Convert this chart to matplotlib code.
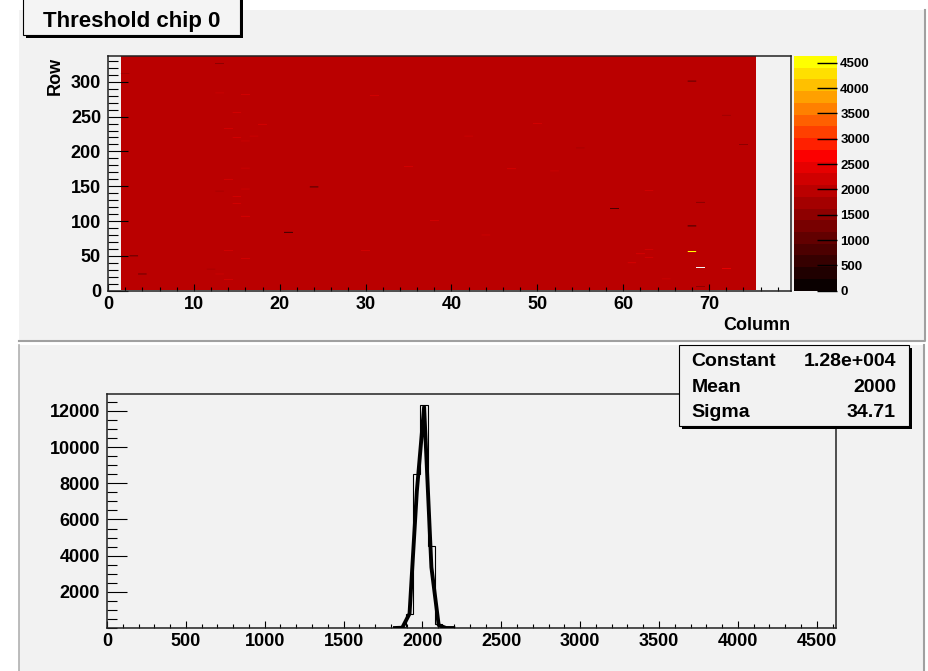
import numpy as np
import matplotlib
matplotlib.use("Agg")
import matplotlib.pyplot as plt
from matplotlib.colors import ListedColormap, BoundaryNorm
from matplotlib.patches import Rectangle
from matplotlib.ticker import MultipleLocator, FixedLocator

plt.rcParams['font.family'] = ['Liberation Sans', 'DejaVu Sans']
plt.rcParams['font.weight'] = 'bold'

# ---------------- data ----------------
title = "Threshold chip 0"
n_rows = 336
first_col, last_col = 2, 75          # columns read out on this chip
typical_threshold = 2000             # threshold of the bulk of the pixels
z_max = 4632                         # top of the colour scale
n_colour_levels = 20

# pixels whose threshold stands out from the bulk: column, row, threshold
odd_col = [59, 68, 68, 3, 4, 21, 24,
           69, 72, 74, 69, 2, 13, 13, 12,
           63, 62, 63, 63, 61, 65, 72,
           13, 16, 15, 14, 18, 15, 17, 16, 16, 14, 16, 15, 15, 16, 14, 16, 13, 14,
           31, 35, 47, 52, 38, 44, 55, 50, 30, 42,
           68, 69]
odd_row = [118, 93, 301, 50, 24, 84, 149,
           127, 252, 210, 6, 312, 326, 143, 31,
           144, 53, 59, 48, 40, 17, 32,
           284, 282, 256, 233, 239, 220, 222, 215, 176, 160, 146, 135, 125, 107, 58, 46, 24, 16,
           280, 178, 175, 172, 101, 80, 205, 240, 58, 222,
           56, 33]
odd_thr = [800, 100, 500, 600, 700, 700, 400,
           1600, 1700, 1500, 1600, 1700, 1600, 1700, 1700,
           2300, 2300, 2250, 2250, 2300, 2300, 2400,
           2300, 2300, 2250, 2300, 2300, 2250, 2300, 2300, 2300, 2300, 2300, 2250, 2250, 2300, 2300, 2300, 2300, 2300,
           2300, 2300, 2250, 2250, 2300, 2300, 1700, 2300, 2300, 2300,
           4620, 0]

# threshold distribution
hist_range = (0, 4622)
hist_nbins = 100
hist_first_bin = 39
hist_counts = [2, 40, 750, 8520, 12320, 4550, 200, 15, 2]

# gaussian fit
fit_constant = 1.28e4
fit_mean = 2000
fit_sigma = 34.71
fit_range = (1800, 2200)
fit_labels = ["Constant", "Mean", "Sigma"]
fit_texts = ["1.28e+004", "2000", "34.71"]

# ---------------- figure ----------------
W, H = 929, 671
PAD_GREY = '#f2f2f2'
fig = plt.figure(figsize=(W / 100, H / 100), dpi=100)
fig.patch.set_facecolor('white')


def rect_px(x0, y0, x1, y1):
    return [x0 / W, 1 - y1 / H, (x1 - x0) / W, (y1 - y0) / H]


# pads
bg = fig.add_axes([0, 0, 1, 1], zorder=-10)
bg.set_xlim(0, W)
bg.set_ylim(H, 0)
bg.axis('off')
bg.add_patch(Rectangle((19, 10), 906, 331, fc=PAD_GREY, ec='none'))
bg.add_patch(Rectangle((19, 345), 906, 330, fc=PAD_GREY, ec='none'))
bg.plot([19, 925, 925], [340.5, 340.5, 10], color='#a0a0a0', lw=1.5)
bg.plot([19.5, 19.5], [345, 671], color='#b0b0b0', lw=1.2)
bg.plot([924.5, 924.5], [345, 671], color='#a0a0a0', lw=1.5)

# colour palette: dark body radiator, black -> red -> yellow
levels = np.linspace(0, z_max, n_colour_levels + 1)
cols = []
for i in range(n_colour_levels):
    r = min(255, 10 + 22 * i)
    g = max(0, min(255, 32 * (i - 11)))
    cols.append((r / 255, g / 255, 0.0))
cmap = ListedColormap(cols)
cmap.set_bad((0, 0, 0, 0))
norm = BoundaryNorm(levels, n_colour_levels)

# threshold map
n_cols = last_col - first_col + 1
thr_map = np.full((n_rows, n_cols), float(typical_threshold))
is_odd = np.zeros((n_rows, n_cols), dtype=bool)
for c, r, t in zip(odd_col, odd_row, odd_thr):
    thr_map[r - 1, c - first_col] = t
    is_odd[r - 1, c - first_col] = True
thr_map = np.ma.masked_equal(thr_map, 0.0)
col_edges = np.arange(first_col - 0.5, last_col + 1.0, 1.0)
row_edges = np.arange(0.5, n_rows + 1.0, 1.0)

ax_map = fig.add_axes(rect_px(108, 56, 790.7, 290.7))
ax_map.set_facecolor(PAD_GREY)
# whole map drawn without edge smoothing (no seams between cells) ...
mesh = ax_map.pcolormesh(col_edges, row_edges, thr_map, cmap=cmap, norm=norm,
                         antialiased=False, linewidth=0, edgecolors='none')
# ... and the single outlying pixels again as smoothed polygons so that
# every sub-pixel-high row still shows up
odd_layer = np.ma.masked_where(~is_odd, thr_map)
ax_map.pcolor(col_edges, row_edges, odd_layer, cmap=cmap, norm=norm,
              antialiased=True, linewidth=0, edgecolors='none')
ax_map.set_xlim(0, 79.5)
ax_map.set_ylim(0, 337)
ax_map.xaxis.set_major_locator(MultipleLocator(10))
ax_map.xaxis.set_minor_locator(MultipleLocator(2))
ax_map.yaxis.set_major_locator(MultipleLocator(50))
ax_map.yaxis.set_minor_locator(MultipleLocator(10))


def style_axes(ax):
    for s in ax.spines.values():
        s.set_color('#222222')
        s.set_linewidth(1.1)
    ax.tick_params(axis='both', which='both', direction='in', top=False, right=False,
                   width=0.8, color='black', labelsize=13)
    ax.tick_params(axis='x', which='major', length=5.4, pad=3.5)
    ax.tick_params(axis='x', which='minor', length=2.8)
    ax.tick_params(axis='y', which='major', length=14.4, pad=5)
    ax.tick_params(axis='y', which='minor', length=7.2)
    for lab in ax.get_xticklabels() + ax.get_yticklabels():
        lab.set_fontweight('bold')


style_axes(ax_map)

# colour scale
cax = fig.add_axes(rect_px(794.5, 56, 836.7, 290.7))
cb = fig.colorbar(mesh, cax=cax, ticks=np.arange(0, 4501, 500))
cb.outline.set_visible(False)
cb.minorticks_off()
cax.tick_params(direction='in', length=14.4, width=1.0, color='black',
                labelsize=9.5, pad=2.5)
for lab in cax.get_yticklabels():
    lab.set_fontweight('bold')

# threshold distribution
edges = np.linspace(hist_range[0], hist_range[1], hist_nbins + 1)
counts = np.zeros(hist_nbins)
counts[hist_first_bin:hist_first_bin + len(hist_counts)] = hist_counts
centres = 0.5 * (edges[:-1] + edges[1:])

ax_h = fig.add_axes(rect_px(107, 394, 836, 628))
ax_h.set_facecolor(PAD_GREY)
ax_h.stairs(counts, edges, color='black', lw=0.8, zorder=2)
in_fit = (centres >= fit_range[0]) & (centres <= fit_range[1])
xf = centres[in_fit]
yf = fit_constant * np.exp(-0.5 * ((xf - fit_mean) / fit_sigma) ** 2)
ax_h.plot(xf, yf, color='black', lw=2.8, solid_joinstyle='round', zorder=3)
ax_h.set_xlim(hist_range)
ax_h.set_ylim(0, 1.05 * counts.max())
ax_h.xaxis.set_major_locator(MultipleLocator(500))
ax_h.xaxis.set_minor_locator(MultipleLocator(100))
ax_h.yaxis.set_major_locator(FixedLocator(np.arange(2000, 12001, 2000)))
ax_h.yaxis.set_minor_locator(MultipleLocator(500))
style_axes(ax_h)

# overlay: title box, axis titles, fit box
ov = fig.add_axes([0, 0, 1, 1], zorder=10)
ov.set_xlim(0, W)
ov.set_ylim(H, 0)
ov.axis('off')
ov.patch.set_alpha(0)

ov.add_patch(Rectangle((26, -5), 217, 42.5, fc='black', ec='none'))
ov.add_patch(Rectangle((23, -5), 217, 39.5, fc='#f4f4f4', ec='black', lw=0.8))
ov.text(131.5, 27, title, ha='center', va='baseline', fontsize=16, fontweight='bold')

ov.text(55, 56.5, "Row", rotation=90, ha='center', va='top', fontsize=13, fontweight='bold')
ov.text(790, 330, "Column", ha='right', va='baseline', fontsize=13, fontweight='bold')

ov.add_patch(Rectangle((682.3, 348), 230, 81, fc='black', ec='none'))
ov.add_patch(Rectangle((679.3, 345), 230, 81, fc=PAD_GREY, ec='black', lw=0.8))
for i, (lab, val) in enumerate(zip(fit_labels, fit_texts)):
    yb = 366.5 + 25.3 * i
    ov.text(691.5, yb, lab, ha='left', va='baseline', fontsize=14, fontweight='bold')
    ov.text(896, yb, val, ha='right', va='baseline', fontsize=14, fontweight='bold')

fig.savefig('out.png', dpi=100)
